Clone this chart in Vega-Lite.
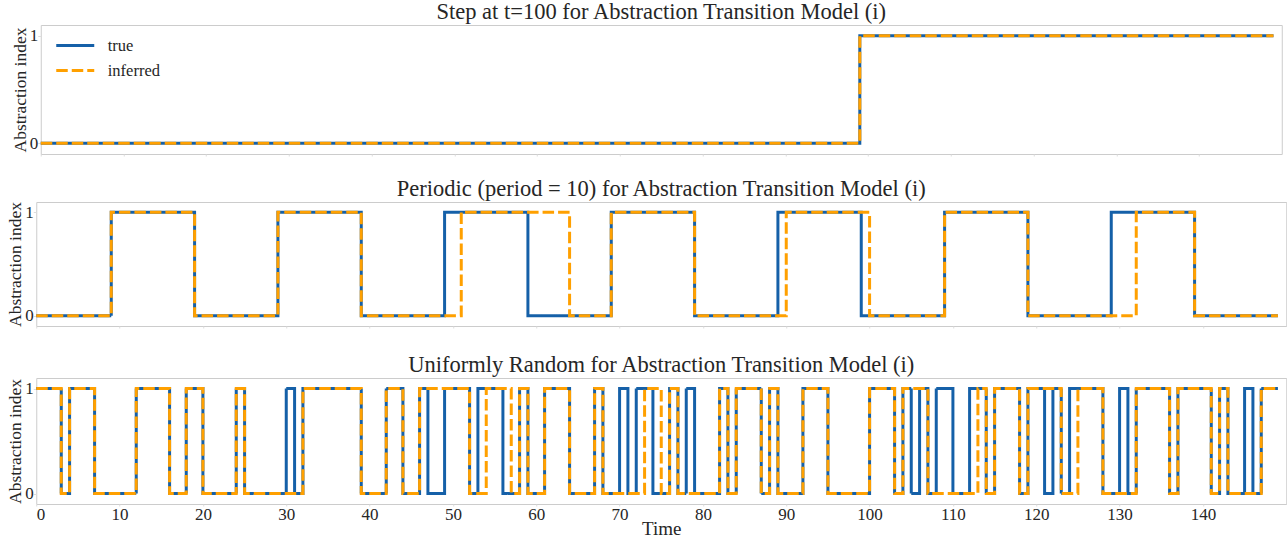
{
  "$schema": "https://vega.github.io/schema/vega-lite/v6.json",
  "padding": {"left": 6, "top": 0, "right": 0, "bottom": 0},
  "background": "white",
  "datasets": {
    "step": [
      {"series": "true", "t": 0, "v": 0}, {"series": "true", "t": 99, "v": 1}, {"series": "true", "t": 149, "v": 1},
      {"series": "inferred", "t": 0, "v": 0}, {"series": "inferred", "t": 99, "v": 1}, {"series": "inferred", "t": 149, "v": 1}
    ],
    "periodic": [
      {"series": "true", "t": 0, "v": 0}, {"series": "true", "t": 9, "v": 1}, {"series": "true", "t": 19, "v": 0},
      {"series": "true", "t": 29, "v": 1}, {"series": "true", "t": 39, "v": 0}, {"series": "true", "t": 49, "v": 1},
      {"series": "true", "t": 59, "v": 0}, {"series": "true", "t": 69, "v": 1}, {"series": "true", "t": 79, "v": 0},
      {"series": "true", "t": 89, "v": 1}, {"series": "true", "t": 99, "v": 0}, {"series": "true", "t": 109, "v": 1},
      {"series": "true", "t": 119, "v": 0}, {"series": "true", "t": 129, "v": 1}, {"series": "true", "t": 139, "v": 0},
      {"series": "true", "t": 149, "v": 0},
      {"series": "inferred", "t": 0, "v": 0}, {"series": "inferred", "t": 9, "v": 1}, {"series": "inferred", "t": 19, "v": 0},
      {"series": "inferred", "t": 29, "v": 1}, {"series": "inferred", "t": 39, "v": 0}, {"series": "inferred", "t": 51, "v": 1},
      {"series": "inferred", "t": 64, "v": 0}, {"series": "inferred", "t": 69, "v": 1}, {"series": "inferred", "t": 79, "v": 0},
      {"series": "inferred", "t": 90, "v": 1}, {"series": "inferred", "t": 100, "v": 0}, {"series": "inferred", "t": 109, "v": 1},
      {"series": "inferred", "t": 119, "v": 0}, {"series": "inferred", "t": 132, "v": 1}, {"series": "inferred", "t": 139, "v": 0},
      {"series": "inferred", "t": 149, "v": 0}
    ],
    "uniform": [
      {"series": "true", "t": 0, "v": 1}, {"series": "true", "t": 3, "v": 0}, {"series": "true", "t": 4, "v": 1},
      {"series": "true", "t": 7, "v": 0}, {"series": "true", "t": 12, "v": 1}, {"series": "true", "t": 16, "v": 0},
      {"series": "true", "t": 18, "v": 1}, {"series": "true", "t": 20, "v": 0}, {"series": "true", "t": 24, "v": 1},
      {"series": "true", "t": 25, "v": 0}, {"series": "true", "t": 30, "v": 1}, {"series": "true", "t": 31, "v": 0},
      {"series": "true", "t": 32, "v": 1}, {"series": "true", "t": 39, "v": 0}, {"series": "true", "t": 42, "v": 1},
      {"series": "true", "t": 44, "v": 0}, {"series": "true", "t": 46, "v": 1}, {"series": "true", "t": 47, "v": 0},
      {"series": "true", "t": 49, "v": 1}, {"series": "true", "t": 52, "v": 0}, {"series": "true", "t": 53, "v": 1},
      {"series": "true", "t": 56, "v": 0}, {"series": "true", "t": 58, "v": 1}, {"series": "true", "t": 59, "v": 0},
      {"series": "true", "t": 61, "v": 1}, {"series": "true", "t": 64, "v": 0}, {"series": "true", "t": 67, "v": 1},
      {"series": "true", "t": 68, "v": 0}, {"series": "true", "t": 70, "v": 1}, {"series": "true", "t": 71, "v": 0},
      {"series": "true", "t": 72, "v": 1}, {"series": "true", "t": 74, "v": 0}, {"series": "true", "t": 76, "v": 1},
      {"series": "true", "t": 77, "v": 0}, {"series": "true", "t": 78, "v": 1}, {"series": "true", "t": 79, "v": 0},
      {"series": "true", "t": 82, "v": 1}, {"series": "true", "t": 83, "v": 0}, {"series": "true", "t": 84, "v": 1},
      {"series": "true", "t": 87, "v": 0}, {"series": "true", "t": 88, "v": 1}, {"series": "true", "t": 89, "v": 0},
      {"series": "true", "t": 92, "v": 1}, {"series": "true", "t": 95, "v": 0}, {"series": "true", "t": 100, "v": 1},
      {"series": "true", "t": 103, "v": 0}, {"series": "true", "t": 104, "v": 1}, {"series": "true", "t": 105, "v": 0},
      {"series": "true", "t": 106, "v": 1}, {"series": "true", "t": 107, "v": 0}, {"series": "true", "t": 108, "v": 1},
      {"series": "true", "t": 110, "v": 0}, {"series": "true", "t": 112, "v": 1}, {"series": "true", "t": 114, "v": 0},
      {"series": "true", "t": 115, "v": 1}, {"series": "true", "t": 118, "v": 0}, {"series": "true", "t": 119, "v": 1},
      {"series": "true", "t": 121, "v": 0}, {"series": "true", "t": 122, "v": 1}, {"series": "true", "t": 123, "v": 0},
      {"series": "true", "t": 124, "v": 1}, {"series": "true", "t": 128, "v": 0}, {"series": "true", "t": 130, "v": 1},
      {"series": "true", "t": 131, "v": 0}, {"series": "true", "t": 132, "v": 1}, {"series": "true", "t": 136, "v": 0},
      {"series": "true", "t": 137, "v": 1}, {"series": "true", "t": 141, "v": 0}, {"series": "true", "t": 142, "v": 1},
      {"series": "true", "t": 143, "v": 0}, {"series": "true", "t": 145, "v": 1}, {"series": "true", "t": 146, "v": 0},
      {"series": "true", "t": 147, "v": 1}, {"series": "true", "t": 149, "v": 1},
      {"series": "inferred", "t": 0, "v": 1}, {"series": "inferred", "t": 3, "v": 0}, {"series": "inferred", "t": 4, "v": 1},
      {"series": "inferred", "t": 7, "v": 0}, {"series": "inferred", "t": 12, "v": 1}, {"series": "inferred", "t": 16, "v": 0},
      {"series": "inferred", "t": 18, "v": 1}, {"series": "inferred", "t": 20, "v": 0}, {"series": "inferred", "t": 24, "v": 1},
      {"series": "inferred", "t": 25, "v": 0}, {"series": "inferred", "t": 32, "v": 1}, {"series": "inferred", "t": 39, "v": 0},
      {"series": "inferred", "t": 42, "v": 1}, {"series": "inferred", "t": 44, "v": 0}, {"series": "inferred", "t": 46, "v": 1},
      {"series": "inferred", "t": 52, "v": 0}, {"series": "inferred", "t": 54, "v": 1}, {"series": "inferred", "t": 57, "v": 0},
      {"series": "inferred", "t": 58, "v": 1}, {"series": "inferred", "t": 59, "v": 0}, {"series": "inferred", "t": 61, "v": 1},
      {"series": "inferred", "t": 64, "v": 0}, {"series": "inferred", "t": 67, "v": 1}, {"series": "inferred", "t": 68, "v": 0},
      {"series": "inferred", "t": 73, "v": 1}, {"series": "inferred", "t": 75, "v": 0}, {"series": "inferred", "t": 76, "v": 1},
      {"series": "inferred", "t": 77, "v": 0}, {"series": "inferred", "t": 82, "v": 1}, {"series": "inferred", "t": 83, "v": 0},
      {"series": "inferred", "t": 84, "v": 1}, {"series": "inferred", "t": 87, "v": 0}, {"series": "inferred", "t": 88, "v": 1},
      {"series": "inferred", "t": 89, "v": 0}, {"series": "inferred", "t": 92, "v": 1}, {"series": "inferred", "t": 95, "v": 0},
      {"series": "inferred", "t": 100, "v": 1}, {"series": "inferred", "t": 103, "v": 0}, {"series": "inferred", "t": 104, "v": 1},
      {"series": "inferred", "t": 107, "v": 0}, {"series": "inferred", "t": 113, "v": 1}, {"series": "inferred", "t": 114, "v": 0},
      {"series": "inferred", "t": 115, "v": 1}, {"series": "inferred", "t": 118, "v": 0}, {"series": "inferred", "t": 119, "v": 1},
      {"series": "inferred", "t": 123, "v": 0}, {"series": "inferred", "t": 125, "v": 1}, {"series": "inferred", "t": 128, "v": 0},
      {"series": "inferred", "t": 132, "v": 1}, {"series": "inferred", "t": 136, "v": 0}, {"series": "inferred", "t": 137, "v": 1},
      {"series": "inferred", "t": 141, "v": 0}, {"series": "inferred", "t": 142, "v": 1}, {"series": "inferred", "t": 143, "v": 0},
      {"series": "inferred", "t": 147, "v": 1}, {"series": "inferred", "t": 149, "v": 1}
    ]
  },
  "config": {
    "font": "Liberation Serif",
    "view": {"stroke": "#cccccc", "strokeWidth": 1},
    "axis": {
      "grid": false, "domain": false,
      "labelFont": "Liberation Serif", "titleFont": "Liberation Serif",
      "labelColor": "#262626", "titleColor": "#262626", "titleFontWeight": "normal",
      "tickColor": "#dddddd", "tickSize": 3, "labelPadding": 0
    },
    "title": {"font": "Liberation Serif", "fontSize": 22.5, "fontWeight": "normal", "color": "#262626", "anchor": "middle", "baseline": "alphabetic", "offset": 1.5}
  },
  "resolve": {"scale": {"color": "independent", "strokeDash": "independent"}},
  "center": true,
  "spacing": 20,
  "vconcat": [
    {
      "title": {"text": "Step at t=100 for Abstraction Transition Model (i)"},
      "width": 1241, "height": 129,
      "data": {"name": "step"},
      "encoding": {
        "x": {"field": "t", "type": "quantitative", "scale": {"domain": [0, 150], "nice": false, "zero": false},
          "axis": {"labels": false, "title": null, "values": [0,10,20,30,40,50,60,70,80,90,100,110,120,130,140], "tickSize": 2}},
        "y": {"field": "v", "type": "quantitative", "scale": {"domain": [-0.1, 1.1], "nice": false},
          "axis": {"values": [0, 1], "format": "d", "title": "Abstraction index", "titleFontSize": 17.5, "labelFontSize": 17, "titlePadding": 0}},
        "color": {"field": "series", "type": "nominal",
          "scale": {"domain": ["true", "inferred"], "range": ["#1560a8", "#ffa000"]},
          "legend": {"title": null, "orient": "none", "legendX": 14, "legendY": 8, "symbolType": "stroke", "symbolSize": 1444, "symbolStrokeWidth": 3, "labelFontSize": 16.5, "labelFont": "Liberation Serif", "labelColor": "#262626", "labelOffset": 12, "rowPadding": 0, "clipHeight": 25}},
        "strokeDash": {"field": "series", "type": "nominal",
          "scale": {"domain": ["true", "inferred"], "range": [[1, 0], [11.5, 4]]},
          "legend": {"title": null, "orient": "none", "legendX": 14, "legendY": 8, "symbolType": "stroke", "symbolSize": 1444, "symbolStrokeWidth": 3, "labelFontSize": 16.5, "labelFont": "Liberation Serif", "labelColor": "#262626", "labelOffset": 12, "rowPadding": 0, "clipHeight": 25}}
      },
      "layer": [
        {"transform": [{"filter": "datum.series === 'true'"}], "mark": {"type": "line", "interpolate": "step-after", "strokeWidth": 3}},
        {"transform": [{"filter": "datum.series === 'inferred'"}], "mark": {"type": "line", "interpolate": "step-after", "strokeWidth": 3}}
      ]
    },
    {
      "spacing": 24,
      "resolve": {"scale": {"color": "independent", "strokeDash": "independent"}},
      "vconcat": [
        {
          "title": {"text": "Periodic (period = 10) for Abstraction Transition Model (i)"},
          "width": 1250, "height": 124,
          "data": {"name": "periodic"},
          "encoding": {
            "x": {"field": "t", "type": "quantitative", "scale": {"domain": [0, 150], "nice": false, "zero": false},
              "axis": {"labels": false, "title": null, "values": [0,10,20,30,40,50,60,70,80,90,100,110,120,130,140], "tickSize": 2}},
            "y": {"field": "v", "type": "quantitative", "scale": {"domain": [-0.1, 1.1], "nice": false},
              "axis": {"values": [0, 1], "format": "d", "title": "Abstraction index", "titleFontSize": 17.5, "labelFontSize": 17, "titlePadding": 0}},
            "color": {"field": "series", "type": "nominal",
              "scale": {"domain": ["true", "inferred"], "range": ["#1560a8", "#ffa000"]}, "legend": null},
            "strokeDash": {"field": "series", "type": "nominal",
              "scale": {"domain": ["true", "inferred"], "range": [[1, 0], [11.5, 4]]}, "legend": null}
          },
          "layer": [
            {"transform": [{"filter": "datum.series === 'true'"}], "mark": {"type": "line", "interpolate": "step-after", "strokeWidth": 3}},
            {"transform": [{"filter": "datum.series === 'inferred'"}], "mark": {"type": "line", "interpolate": "step-after", "strokeWidth": 3}}
          ]
        },
        {
          "title": {"text": "Uniformly Random for Abstraction Transition Model (i)"},
          "width": 1250, "height": 126,
          "data": {"name": "uniform"},
          "encoding": {
            "x": {"field": "t", "type": "quantitative", "scale": {"domain": [0, 150], "nice": false, "zero": false},
              "axis": {"values": [0,10,20,30,40,50,60,70,80,90,100,110,120,130,140], "format": "d", "title": "Time", "titleFontSize": 19, "labelFontSize": 17, "tickSize": 2, "labelPadding": 0, "titlePadding": -3}},
            "y": {"field": "v", "type": "quantitative", "scale": {"domain": [-0.1, 1.1], "nice": false},
              "axis": {"values": [0, 1], "format": "d", "title": "Abstraction index", "titleFontSize": 17.5, "labelFontSize": 17, "titlePadding": 0}},
            "color": {"field": "series", "type": "nominal",
              "scale": {"domain": ["true", "inferred"], "range": ["#1560a8", "#ffa000"]}, "legend": null},
            "strokeDash": {"field": "series", "type": "nominal",
              "scale": {"domain": ["true", "inferred"], "range": [[1, 0], [11.5, 4]]}, "legend": null}
          },
          "layer": [
            {"transform": [{"filter": "datum.series === 'true'"}], "mark": {"type": "line", "interpolate": "step-after", "strokeWidth": 3}},
            {"transform": [{"filter": "datum.series === 'inferred'"}], "mark": {"type": "line", "interpolate": "step-after", "strokeWidth": 3}}
          ]
        }
      ]
    }
  ]
}
